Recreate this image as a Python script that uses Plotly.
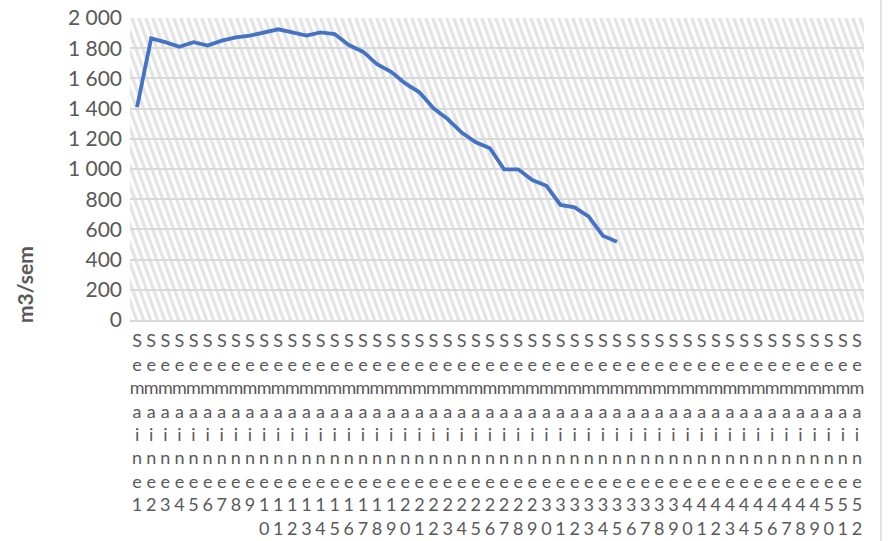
import base64
import plotly.graph_objects as go

# Categories (weeks) and tick labels
weeks = ["Semaine" + str(i) for i in range(1, 53)]
tick_labels = ["<br>".join(list(w)) for w in weeks]

# Weekly volume (m3/sem), weeks 1..35
volume = [1410, 1865, 1840, 1810, 1840, 1818, 1850, 1872, 1883, 1905,
          1925, 1905, 1883, 1905, 1894, 1821, 1777, 1695, 1644, 1567,
          1508, 1402, 1331, 1241, 1177, 1137, 998, 998, 927, 889,
          762, 746, 684, 558, 519]
volume_weeks = weeks[:len(volume)]

y_title = "m3/sem"
y_ticks = [0, 200, 400, 600, 800, 1000, 1200, 1400, 1600, 1800, 2000]

GRAY_TXT = "#595959"
GRID = "#d9d9d9"
FONT = "Lato"

W, H = 888, 541
M_L, M_R, M_T, M_B = 130, 24, 18, 221
PW, PH = W - M_L - M_R, H - M_T - M_B

# hatched plot-area fill (steep downward diagonal stripes)
hatch_svg = (
    '<svg xmlns="http://www.w3.org/2000/svg" width="{w}" height="{h}" '
    'viewBox="0 0 {w} {h}" preserveAspectRatio="none">'
    '<defs><pattern id="p" width="7" height="14" patternUnits="userSpaceOnUse" '
    'patternTransform="skewX(20)">'
    '<rect x="0" y="0" width="7" height="14" fill="#ffffff"/>'
    '<rect x="0" y="0" width="3.5" height="14" fill="#e3e3e3"/>'
    '</pattern></defs>'
    '<rect x="0" y="0" width="{w}" height="{h}" fill="url(#p)"/></svg>'
).format(w=PW, h=PH)
hatch_uri = "data:image/svg+xml;base64," + base64.b64encode(hatch_svg.encode()).decode()

fig = go.Figure()

fig.add_trace(go.Scatter(
    x=volume_weeks, y=volume, mode="lines",
    line=dict(color="#4472C4", width=3.8),
    showlegend=False,
))

fig.update_layout(
    width=W, height=H,
    margin=dict(l=M_L, r=M_R, t=M_T, b=M_B, autoexpand=False),
    paper_bgcolor="white", plot_bgcolor="white",
    separators=", ",
    font=dict(family=FONT, color=GRAY_TXT),
    showlegend=False,
    xaxis=dict(
        type="category", categoryorder="array", categoryarray=weeks,
        range=[-0.5, len(weeks) - 0.5], automargin=False,
        tickmode="array", tickvals=weeks, ticktext=tick_labels,
        tickangle=0, tickfont=dict(size=18, color=GRAY_TXT, family=FONT),
        showgrid=False, showline=True, linecolor=GRID, linewidth=1.5,
        ticks="", ticklabelstandoff=4, fixedrange=True,
        ticklabeloverflow="allow",
    ),
    yaxis=dict(
        automargin=False,
        range=[0, 2000], tickmode="array", tickvals=y_ticks,
        separatethousands=True, tickformat=",d",
        tickfont=dict(size=21, color=GRAY_TXT, family=FONT),
        showgrid=True, gridcolor=GRID, gridwidth=2,
        zeroline=False, showline=False, ticks="",
        ticklabelstandoff=7, fixedrange=True,
        ticklabeloverflow="allow",
    ),
    images=[dict(
        source=hatch_uri, xref="paper", yref="paper",
        x=0, y=1, sizex=1, sizey=1, xanchor="left", yanchor="top",
        sizing="stretch", layer="below",
    )],
    annotations=[dict(
        text="<b>" + y_title + "</b>", textangle=-90,
        xref="paper", yref="paper", x=-0.143, y=0.116,
        xanchor="center", yanchor="middle", showarrow=False,
        font=dict(size=21, color=GRAY_TXT, family=FONT),
    )],
    shapes=[dict(
        type="line", xref="paper", yref="paper",
        x0=(881 - M_L) / PW, x1=(881 - M_L) / PW, y0=-0.74, y1=1.07,
        line=dict(color=GRID, width=1.5),
    )],
)

# remove the browser's default 8px page margin so the figure fills the window
fig.write_html("out.html",
               config={"displayModeBar": False},
               post_script="document.body.style.margin='0';"
                           "document.body.style.overflow='hidden';")
